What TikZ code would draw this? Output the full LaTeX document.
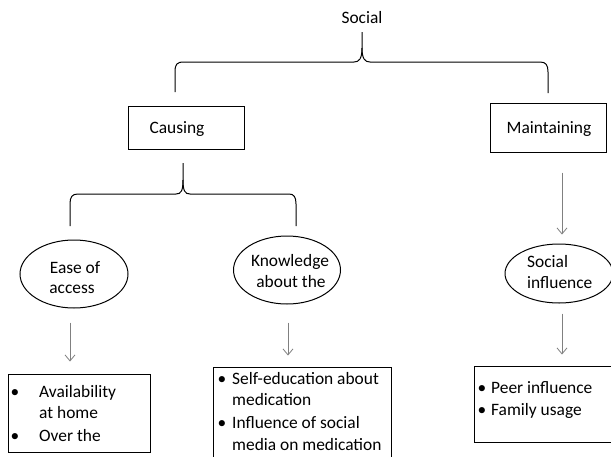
\documentclass[tikz,border=0pt]{standalone}
\usepackage{fontspec}
\setmainfont{Carlito}
\usetikzlibrary{arrows.meta,shapes.geometric,calc}
\begin{document}
\begin{tikzpicture}[x=1pt,y=-1pt,
  font=\fontsize{17.4}{21.7}\selectfont,
  box/.style={draw,line width=1pt,rectangle,inner sep=0},
  oval/.style={draw,line width=1pt,ellipse,inner sep=0},
  txt/.style={inner sep=0,anchor=base west},
  ctxt/.style={inner sep=0,anchor=base},
  brace/.style={line width=1pt},
  arr/.style={draw=black!50,line width=0.8pt,-{Straight Barb[length=6pt,width=10pt]}}]
\fill[white] (0,0) rectangle (611,456);
\clip (0,0) rectangle (611,456);

% title
\node[ctxt] (social) at (362,23) {Social};

% top brace
\draw[brace] (175,92) -- (175,72) .. controls (175,64) and (177,62) .. (184,62) -- (354,62) .. controls (359,62) and (362,59) .. (362,48) -- (362,32);
\draw[brace] (362,48) .. controls (362,59) and (365,62) .. (370,62) -- (540,62) .. controls (546,62) and (548,65) .. (548,72) -- (548,93);

% level 1 boxes
\node[box,minimum width=116,minimum height=43] (causing) at (186,127.5) {};
\node[ctxt] (causingT) at (177,133) {Causing};
\node[box,minimum width=116,minimum height=49] (maint) at (548,127.5) {};
\node[ctxt] (maintT) at (549,133) {Maintaining};

% lower brace
\draw[brace] (70,226) -- (70,204) .. controls (70,197) and (72,194) .. (78,194) -- (176,194) .. controls (181,194) and (183,191) .. (183,180) -- (183,163);
\draw[brace] (183,180) .. controls (183,191) and (185,194) .. (190,194) -- (289,194) .. controls (294,194) and (296,197) .. (296,204) -- (296,226);

% ellipses
\node[oval,minimum width=108,minimum height=68] (ease) at (74,274) {};
\node[ctxt] (easeA) at (75,273) {Ease of};
\node[ctxt] (easeB) at (72,293) {access};
\node[oval,minimum width=107,minimum height=68] (know) at (287,270) {};
\node[ctxt] (knowA) at (290,266) {Knowledge};
\node[ctxt] (knowB) at (291,287) {about the};
\node[oval,minimum width=108,minimum height=59] (sinf) at (559,273.5) {};
\node[txt] (sinfA) at (527,267) {Social};
\node[txt] (sinfB) at (527,288) {influence};

% bottom boxes
\node[box,minimum width=142,minimum height=78] (avail) at (79,413) {};
\node[ctxt] (availB1) at (15,397) {\textbullet};
\node[txt] (availA) at (39,397) {Availability};
\node[txt] (availB) at (39,418) {at home};
\node[ctxt] (availB2) at (15,441) {\textbullet};
\node[txt] (availC) at (39,441) {Over the};

\node[box,minimum width=178,minimum height=110] (kbox) at (302,422) {};
\node[ctxt] (kB1) at (222,384) {\textbullet};
\node[txt] (kA) at (232,384) {Self-education about};
\node[txt] (kB) at (232,405) {medication};
\node[ctxt] (kB2) at (222,428) {\textbullet};
\node[txt] (kC) at (232,428) {Influence of social};
\node[txt] (kD) at (232,450) {media on medication};

\node[box,minimum width=156,minimum height=76] (pbox) at (552,404) {};
\node[ctxt] (pB1) at (482,393) {\textbullet};
\node[txt] (pA) at (491,393) {Peer influence};
\node[ctxt] (pB2) at (482,415) {\textbullet};
\node[txt] (pB) at (491,415) {Family usage};

% arrows
\draw[arr,shorten <=14pt,shorten >=12pt] ([xshift=-4pt]ease.south) -- ([xshift=-4pt]ease.south |- avail.north);
\draw[arr,shorten <=18pt,shorten >=11pt] ([xshift=1pt]know.south) -- ([xshift=1pt]know.south |- kbox.north);
\draw[arr,shorten <=20pt,shorten >=9pt] ([xshift=14pt]maint.south) -- ([xshift=14pt]maint.south |- sinf.north);
\draw[arr,shorten <=10pt,shorten >=11pt] ([xshift=3pt]sinf.south) -- ([xshift=3pt]sinf.south |- pbox.north);
\end{tikzpicture}
\end{document}
